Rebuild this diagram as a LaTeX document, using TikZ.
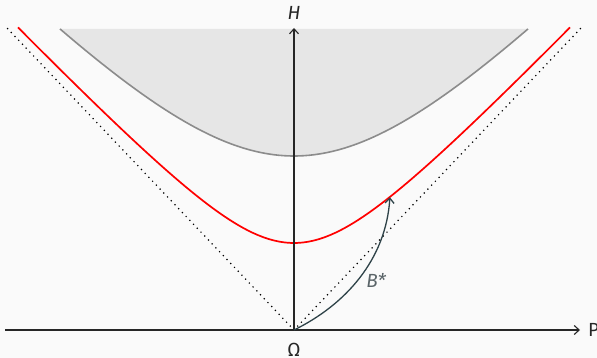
\documentclass[tikz,border=0pt]{standalone}
\usepackage{fontspec}
\setmainfont{Fira Sans}
\usetikzlibrary{arrows.meta}
\definecolor{bgc}{HTML}{FAFAFA}
\definecolor{fillc}{HTML}{E6E6E6}
\definecolor{curvegray}{HTML}{8C8C8C}
\definecolor{slate}{HTML}{2E4248}
\definecolor{labgray}{HTML}{5A6468}
\tikzset{
  axis/.style={draw=black!85, line width=1.1pt, -{Straight Barb[length=5pt,width=9pt]}},
  asym/.style={black, line width=1.7pt, dash pattern=on 0pt off 5.4pt, line cap=round},
  lab/.style={font=\fontsize{19}{22}\selectfont, text=black!85, inner sep=0pt},
}
\begin{document}
\begin{tikzpicture}[x=10pt,y=-10pt]
\useasboundingbox[fill=bgc] (0,0) rectangle (59.7,35.8);
\coordinate (O) at (29.4,33.0);
\coordinate (Htop) at (29.4,2.8);
\coordinate (Pleft) at (0.5,33.0);
\coordinate (Pright) at (58.0,33.0);
\coordinate (AL) at (0.7,2.8);
\coordinate (AR) at (58.1,2.8);
\coordinate (Bend) at (38.99,19.72);
% gray region
\fill[fillc] plot[domain=-23.4:23.4, samples=80] ({29.4+\x},{33.0-sqrt(17.4*17.4+(1.05*\x)*(1.05*\x))}) -- cycle;
\draw[curvegray, line width=1.6pt] plot[domain=-23.4:23.4, samples=80] ({29.4+\x},{33.0-sqrt(17.4*17.4+(1.05*\x)*(1.05*\x))});
% asymptotes
\draw[asym] (O) -- (AL);
\draw[asym] (O) -- (AR);
% red hyperbola
\draw[red, line width=1.7pt] plot[domain=-27.6:27.6, samples=100] ({29.4+\x},{33.0-sqrt(8.7*8.7+(1.05*\x)*(1.05*\x))});
% axes
\draw[axis] (Pleft) -- (Pright);
\draw[axis] (O) -- (Htop);
% B* arrow
\draw[slate, line width=1.3pt, -{Straight Barb[length=5pt,width=9pt]}] (O) .. controls (34.5,30.5) and (38.6,26.0) .. (Bend);
% labels
\node[lab, anchor=south] (Hl) at (29.4,2.0) {\itshape H};
\node[lab, anchor=west] (Pl) at (58.8,33.0) {P};
\node[lab, anchor=north] (Om) at (29.4,34.3) {Ω};
\node[lab, text=labgray] (Bl) at (37.6,28.0) {\itshape B*};
\end{tikzpicture}
\end{document}
